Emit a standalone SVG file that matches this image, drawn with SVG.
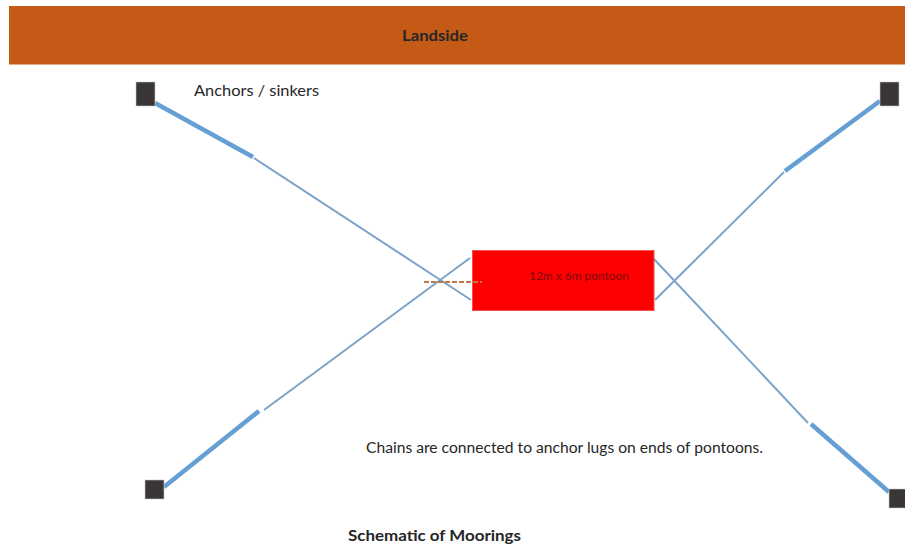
<svg xmlns="http://www.w3.org/2000/svg" width="905" height="545" viewBox="0 0 905 545">
<style>
text{font-family:Lato,"Open Sans","Liberation Sans",sans-serif;fill:#262626}
.b{font-weight:700}
.anchor{fill:#3a3536;stroke:#c8c8c8;stroke-width:.6}
.thin{stroke:#7ba3c9;stroke-width:2;fill:none}
.thick{stroke:#659fd3;stroke-width:4.500;fill:none}
</style>
<rect width="905" height="545" fill="#fff"/>
<g id="landside"><rect x="9" y="6" width="896" height="58.500" fill="#c55a17"/><text class="b" x="435" y="40.500" font-size="16" text-anchor="middle" textLength="66" lengthAdjust="spacingAndGlyphs">Landside</text></g>
<g id="connectors">
<path class="thick" d="M155 103L253 157"/><path class="thin" d="M254 158L471 300"/>
<path class="thick" d="M880 101L785 171"/><path class="thin" d="M784 172L655 300"/>
<path class="thick" d="M889 492L811 424"/><path class="thin" d="M808 423L653 258"/>
<path class="thick" d="M164 487L259 411"/><path class="thin" d="M264 410L470 258"/>
</g>
<g id="pontoon"><rect x="472.500" y="250.500" width="181.500" height="60" fill="#fe0000" stroke="#f25050"/><text x="579" y="280" font-size="12" text-anchor="middle" textLength="100" lengthAdjust="spacingAndGlyphs" style="fill:#7a0a0a">12m x 6m pontoon</text></g>
<path id="dash" d="M424 282H482" stroke="#c07a45" stroke-width="2" stroke-dasharray="5 2" fill="none"/>
<g id="anchor-tl"><rect class="anchor" x="136" y="82" width="19" height="24"/></g>
<g id="anchor-tr"><rect class="anchor" x="880" y="82" width="19" height="24"/></g>
<g id="anchor-bl"><rect class="anchor" x="145" y="480" width="19" height="19"/></g>
<g id="anchor-br"><rect class="anchor" x="889" y="489" width="17" height="19"/></g>
<text x="194" y="96" font-size="16" textLength="125" lengthAdjust="spacingAndGlyphs">Anchors / sinkers</text>
<text x="366" y="453" font-size="15.500" textLength="397" lengthAdjust="spacingAndGlyphs">Chains are connected to anchor lugs on ends of pontoons.</text>
<text class="b" x="434.500" y="541" font-size="16" text-anchor="middle" textLength="173" lengthAdjust="spacingAndGlyphs">Schematic of Moorings</text>
</svg>
